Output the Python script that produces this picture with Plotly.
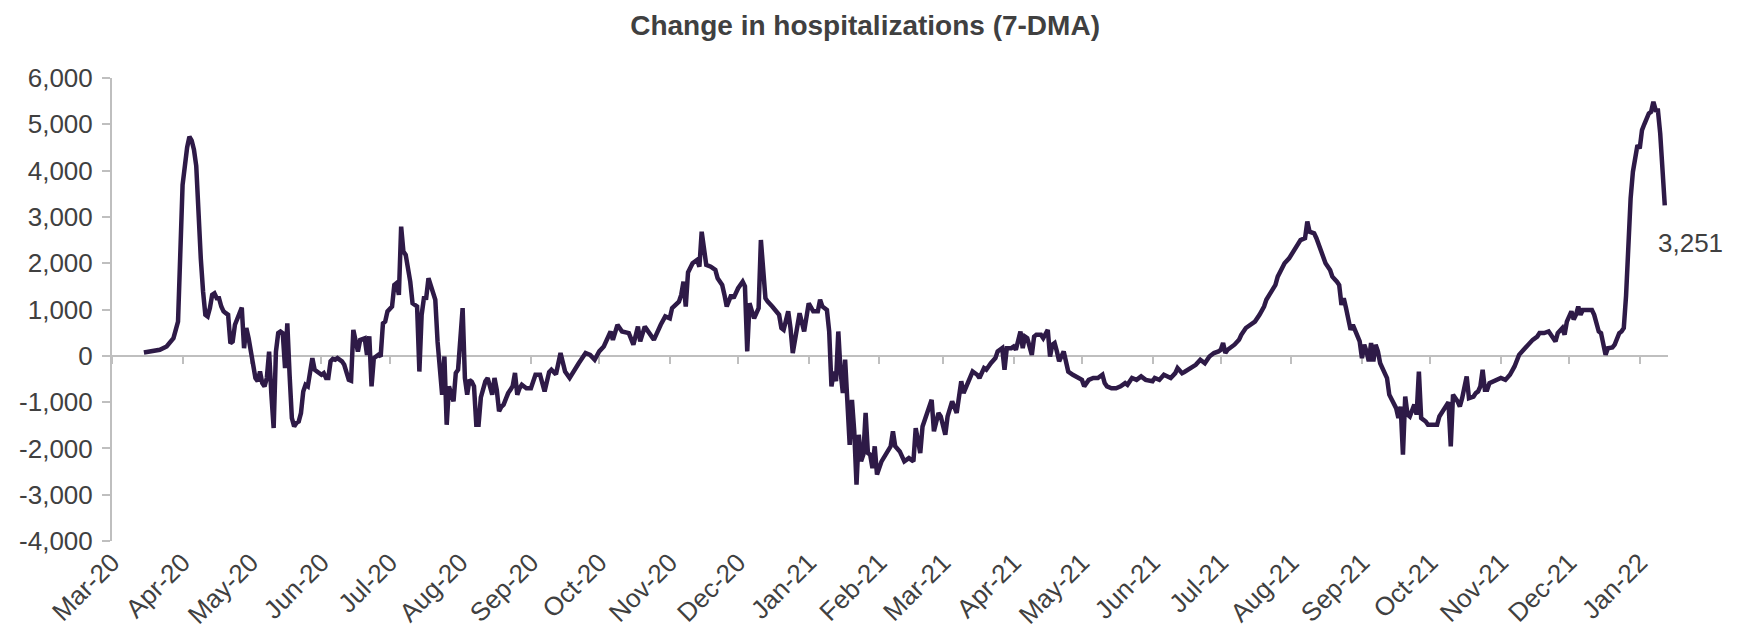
import plotly.graph_objects as go

# change in hospitalizations, 7-day moving average
dates = [
    "2020-03-15", "2020-03-22", "2020-03-25", "2020-03-28", "2020-03-30",
    "2020-04-01", "2020-04-03", "2020-04-04", "2020-04-05", "2020-04-06", "2020-04-07", "2020-04-08",
    "2020-04-09", "2020-04-10", "2020-04-11", "2020-04-12", "2020-04-13", "2020-04-14", "2020-04-15",
    "2020-04-16", "2020-04-17", "2020-04-18", "2020-04-19", "2020-04-20", "2020-04-21", "2020-04-22",
    "2020-04-23", "2020-04-24", "2020-04-25", "2020-04-26", "2020-04-27", "2020-04-28", "2020-04-29",
    "2020-04-30",
    "2020-05-01", "2020-05-02", "2020-05-03", "2020-05-04", "2020-05-05", "2020-05-06", "2020-05-07",
    "2020-05-08", "2020-05-09", "2020-05-10", "2020-05-11", "2020-05-12", "2020-05-13", "2020-05-14",
    "2020-05-15", "2020-05-16", "2020-05-17", "2020-05-18", "2020-05-19", "2020-05-20", "2020-05-21",
    "2020-05-22", "2020-05-23", "2020-05-24", "2020-05-25", "2020-05-26", "2020-05-27", "2020-05-28",
    "2020-05-29", "2020-05-30", "2020-05-31",
    "2020-06-01", "2020-06-02", "2020-06-03", "2020-06-04", "2020-06-05", "2020-06-06", "2020-06-07",
    "2020-06-08", "2020-06-09", "2020-06-10", "2020-06-11", "2020-06-12", "2020-06-13", "2020-06-14",
    "2020-06-15", "2020-06-17", "2020-06-18", "2020-06-20", "2020-06-21", "2020-06-22", "2020-06-23",
    "2020-06-24", "2020-06-26", "2020-06-27", "2020-06-28", "2020-06-29", "2020-06-30",
    "2020-07-02", "2020-07-03", "2020-07-04", "2020-07-05", "2020-07-06", "2020-07-07", "2020-07-08",
    "2020-07-10", "2020-07-11", "2020-07-12", "2020-07-13", "2020-07-14", "2020-07-15", "2020-07-16",
    "2020-07-17", "2020-07-18", "2020-07-19", "2020-07-20", "2020-07-21", "2020-07-22", "2020-07-23",
    "2020-07-24", "2020-07-25", "2020-07-26", "2020-07-27", "2020-07-28", "2020-07-29", "2020-07-30",
    "2020-07-31",
    "2020-08-02", "2020-08-03", "2020-08-04", "2020-08-05", "2020-08-06", "2020-08-07", "2020-08-08",
    "2020-08-09", "2020-08-10", "2020-08-11", "2020-08-12", "2020-08-13", "2020-08-14", "2020-08-15",
    "2020-08-16", "2020-08-17", "2020-08-18", "2020-08-19", "2020-08-20", "2020-08-21", "2020-08-22",
    "2020-08-23", "2020-08-24", "2020-08-25", "2020-08-26", "2020-08-27", "2020-08-28", "2020-08-30",
    "2020-09-01", "2020-09-03", "2020-09-05", "2020-09-07", "2020-09-09", "2020-09-10", "2020-09-12",
    "2020-09-14", "2020-09-16", "2020-09-18", "2020-09-20", "2020-09-22", "2020-09-25", "2020-09-27",
    "2020-09-29",
    "2020-10-01", "2020-10-03", "2020-10-06", "2020-10-07", "2020-10-09", "2020-10-11", "2020-10-14",
    "2020-10-16", "2020-10-18", "2020-10-19", "2020-10-21", "2020-10-23", "2020-10-25", "2020-10-28",
    "2020-10-30",
    "2020-11-01", "2020-11-02", "2020-11-05", "2020-11-06", "2020-11-07", "2020-11-08", "2020-11-09",
    "2020-11-10", "2020-11-11", "2020-11-13", "2020-11-14", "2020-11-15", "2020-11-17", "2020-11-19",
    "2020-11-21", "2020-11-22", "2020-11-24", "2020-11-25", "2020-11-26", "2020-11-28", "2020-11-29",
    "2020-12-01", "2020-12-03", "2020-12-04", "2020-12-05", "2020-12-06", "2020-12-08", "2020-12-10",
    "2020-12-11", "2020-12-13", "2020-12-14", "2020-12-16", "2020-12-19", "2020-12-20", "2020-12-21",
    "2020-12-23", "2020-12-24", "2020-12-25", "2020-12-27", "2020-12-28", "2020-12-30",
    "2021-01-01", "2021-01-03", "2021-01-05", "2021-01-06", "2021-01-07", "2021-01-09", "2021-01-10",
    "2021-01-11", "2021-01-12", "2021-01-13", "2021-01-14", "2021-01-15", "2021-01-16", "2021-01-17",
    "2021-01-18", "2021-01-19", "2021-01-20", "2021-01-21", "2021-01-22", "2021-01-23", "2021-01-24",
    "2021-01-25", "2021-01-26", "2021-01-27", "2021-01-28", "2021-01-29", "2021-01-30", "2021-01-31",
    "2021-02-02", "2021-02-04", "2021-02-06", "2021-02-07", "2021-02-08", "2021-02-10", "2021-02-12",
    "2021-02-14", "2021-02-16", "2021-02-17", "2021-02-19", "2021-02-20", "2021-02-22", "2021-02-24",
    "2021-02-25", "2021-02-27", "2021-02-28",
    "2021-03-02", "2021-03-03", "2021-03-05", "2021-03-07", "2021-03-09", "2021-03-10", "2021-03-12",
    "2021-03-14", "2021-03-16", "2021-03-17", "2021-03-19", "2021-03-20", "2021-03-22", "2021-03-24",
    "2021-03-25", "2021-03-26", "2021-03-27", "2021-03-28", "2021-03-29", "2021-03-31",
    "2021-04-01", "2021-04-02", "2021-04-04", "2021-04-05", "2021-04-06", "2021-04-07", "2021-04-09",
    "2021-04-10", "2021-04-11", "2021-04-13", "2021-04-14", "2021-04-16", "2021-04-17", "2021-04-18",
    "2021-04-19", "2021-04-20", "2021-04-21", "2021-04-23", "2021-04-24", "2021-04-25", "2021-04-27",
    "2021-04-29",
    "2021-05-01", "2021-05-02", "2021-05-04", "2021-05-06", "2021-05-08", "2021-05-10", "2021-05-11",
    "2021-05-12", "2021-05-14", "2021-05-16", "2021-05-18", "2021-05-20", "2021-05-21", "2021-05-23",
    "2021-05-25", "2021-05-27", "2021-05-29",
    "2021-06-01", "2021-06-02", "2021-06-04", "2021-06-06", "2021-06-09", "2021-06-11", "2021-06-12",
    "2021-06-14", "2021-06-15", "2021-06-18", "2021-06-20", "2021-06-22", "2021-06-24", "2021-06-26",
    "2021-06-28", "2021-06-30",
    "2021-07-01", "2021-07-02", "2021-07-03", "2021-07-04", "2021-07-07", "2021-07-09", "2021-07-10",
    "2021-07-12", "2021-07-14", "2021-07-16", "2021-07-18", "2021-07-20", "2021-07-21", "2021-07-23",
    "2021-07-24", "2021-07-25", "2021-07-26", "2021-07-28", "2021-07-29", "2021-07-31",
    "2021-08-01", "2021-08-03", "2021-08-04", "2021-08-05", "2021-08-07", "2021-08-08", "2021-08-09",
    "2021-08-11", "2021-08-12", "2021-08-13", "2021-08-15", "2021-08-16", "2021-08-18", "2021-08-19",
    "2021-08-21", "2021-08-22", "2021-08-23", "2021-08-24", "2021-08-25", "2021-08-26", "2021-08-27",
    "2021-08-28", "2021-08-30", "2021-08-31",
    "2021-09-01", "2021-09-02", "2021-09-03", "2021-09-04", "2021-09-05", "2021-09-06", "2021-09-07",
    "2021-09-08", "2021-09-09", "2021-09-10", "2021-09-12", "2021-09-13", "2021-09-14", "2021-09-16",
    "2021-09-17", "2021-09-18", "2021-09-19", "2021-09-20", "2021-09-21", "2021-09-22", "2021-09-24",
    "2021-09-25", "2021-09-26", "2021-09-27", "2021-09-29", "2021-09-30",
    "2021-10-02", "2021-10-04", "2021-10-05", "2021-10-07", "2021-10-09", "2021-10-10", "2021-10-11",
    "2021-10-13", "2021-10-14", "2021-10-15", "2021-10-17", "2021-10-18", "2021-10-20", "2021-10-21",
    "2021-10-22", "2021-10-23", "2021-10-24", "2021-10-25", "2021-10-26", "2021-10-27", "2021-10-29",
    "2021-10-30",
    "2021-11-01", "2021-11-03", "2021-11-05", "2021-11-07", "2021-11-09", "2021-11-11", "2021-11-13",
    "2021-11-15", "2021-11-17", "2021-11-18", "2021-11-20", "2021-11-22", "2021-11-23", "2021-11-25",
    "2021-11-26", "2021-11-28", "2021-11-29", "2021-11-30",
    "2021-12-02", "2021-12-03", "2021-12-04", "2021-12-05", "2021-12-06", "2021-12-07", "2021-12-09",
    "2021-12-11", "2021-12-12", "2021-12-13", "2021-12-14", "2021-12-15", "2021-12-16", "2021-12-17",
    "2021-12-18", "2021-12-20", "2021-12-21", "2021-12-22", "2021-12-23", "2021-12-24", "2021-12-25",
    "2021-12-26", "2021-12-27", "2021-12-28", "2021-12-29", "2021-12-30", "2021-12-31",
    "2022-01-01", "2022-01-02", "2022-01-03", "2022-01-04", "2022-01-05", "2022-01-06", "2022-01-07",
    "2022-01-08", "2022-01-09", "2022-01-10", "2022-01-11", "2022-01-12",
]

hosp_change = [
    70, 130, 200, 380, 740,
    3690, 4500, 4730, 4650, 4450, 4100, 2800,
    2100, 1390, 885, 850, 1030, 1315, 1350,
    1245, 1245, 1065, 960, 920, 885, 270,
    310, 670, 810, 960, 1040, 165, 600,
    380,
    90, -230, -480, -550, -340, -590, -660,
    -480, 90, -840, -1560, 90, 490, 525,
    490, -265, 700, -410, -1345, -1525, -1450,
    -1420, -1235, -770, -625, -660, -410, -50,
    -300, -340, -375,
    -410, -375, -480, -480, -120, -65, -85,
    -50, -85, -120, -195, -410, -520, -540,
    560, 90, 345, 380, 20, 420, -660,
    -50, 20, -15, 700, 740, 960,
    1065, 1530, 1570, 1315, 2790, 2250, 2180,
    1600, 1135, 1100, 1065, -340, 885, 1245,
    1250, 1675, 1500, 1315, 1210, 300, -400,
    -840, -15, -1490, -660, -800, -985, -370,
    -300,
    1030, -480, -840, -520, -560, -660, -1490,
    -1490, -900, -700, -550, -480, -700, -840,
    -480, -735, -1200, -1100, -1055, -900, -805,
    -735, -650, -370, -840, -700, -625, -700,
    -700, -410, -410, -770, -350, -300, -400,
    60, -340, -480, -340, -160, 60, 20,
    -85,
    95, 200, 525, 345, 670, 525, 490,
    240, 630, 310, 630, 490, 345, 670,
    850,
    810, 1030, 1170, 1315, 1600, 1065, 1800,
    1925, 2000, 2070, 1925, 2680, 1965, 1925,
    1855, 1675, 1530, 1315, 1065, 1315, 1245,
    1460, 1600, 1500, 95, 1135, 810, 1030,
    2500, 1245, 1170, 1065, 885, 600, 560,
    960, 600, 60, 670, 920, 525,
    1135, 960, 960, 1210, 1065, 990, 525,
    -660, -340, -550, 525, -340, -805, -85,
    -840, -1925, -950, -1630, -2785, -1705, -2280,
    -2135, -1235, -2100, -2135, -2425, -1955, -2565,
    -2280, -2135, -1955, -1630, -1955, -2065, -2280,
    -2210, -2280, -1560, -2100, -1525, -1270, -950,
    -1630, -1235, -1310,
    -1705, -1310, -985, -1235, -550, -805, -590,
    -340, -410, -480, -265, -300, -160, -50,
    95, 130, 165, -300, 165, 165,
    200, 130, 525, 165, 415, 380, 20,
    415, 455, 455, 380, 560, -15, 240,
    275, 95, -120, 95, -120, -340, -410,
    -465,
    -520, -660, -520, -480, -480, -410, -590,
    -660, -700, -700, -660, -590, -625, -480,
    -520, -445, -520,
    -550, -480, -520, -410, -480, -375, -265,
    -375, -350, -265, -195, -85, -160, -15,
    60, 95,
    130, 275, 60, 130, 240, 345, 455,
    600, 670, 740, 885, 1065, 1210, 1350,
    1460, 1530, 1710, 1890, 2000, 2105,
    2180, 2320, 2410, 2500, 2540, 2900, 2680,
    2645, 2540, 2395, 2105, 2000, 1855, 1710,
    1600, 1530, 1100, 1245, 1030, 810, 560,
    670, 455, 310,
    -50, 240, 95, -120, 275, -120, 240,
    95, -160, -265, -480, -840, -950, -1130,
    -1345, -1100, -2135, -880, -1270, -1310, -1055,
    -1270, -340, -1345, -1420, -1490,
    -1490, -1490, -1310, -1130, -1000, -1955, -840,
    -985, -1095, -915, -445, -915, -880, -805,
    -770, -660, -300, -735, -735, -590, -550,
    -520,
    -480, -520, -410, -230, 20, 130, 240,
    345, 415, 490, 490, 525, 455, 310,
    490, 600, 455, 740,
    960, 785, 885, 1065, 885, 990, 990,
    990, 885, 700, 525, 490, 240, 20,
    165, 180, 240, 345, 490, 525, 600,
    1300, 2500, 3400, 3975, 4300, 4550,
    4480, 4875, 5000, 5125, 5235, 5270, 5485,
    5305, 5300, 4800, 4150, 3251,
]

y_ticks = [-4000, -3000, -2000, -1000, 0, 1000, 2000, 3000, 4000, 5000, 6000]
y_tick_text = [f"{v:,}" for v in y_ticks]  # plain hyphen for negatives, as in the original
x_range = ["2020-03-01", "2022-01-13 10:00"]
last_label = "3,251"

line_color = "#2E1A47"
text_color = "#404040"
axis_color = "#BFBFBF"
font_family = "Liberation Sans, Arial, sans-serif"
tick_size = 26

fig = go.Figure()
fig.add_trace(go.Scatter(
    x=dates, y=hosp_change,
    mode="lines",
    line=dict(color=line_color, width=4.5),
    showlegend=False,
))
# invisible copy so the zero-crossing axis (x2) gets drawn
fig.add_trace(go.Scatter(
    x=dates, y=hosp_change, xaxis="x2",
    mode="lines", line=dict(width=0), opacity=0,
    hoverinfo="skip", showlegend=False,
))

fig.add_annotation(
    x=dates[-1], y=hosp_change[-1], text=last_label,
    showarrow=False, xanchor="left", yanchor="top",
    xshift=-9, yshift=-21,
    font=dict(size=tick_size, color=text_color, family=font_family),
)

# page body adds an 8px offset, so the figure is 8px smaller than the window
fig.update_layout(
    width=1736, height=630,
    paper_bgcolor="white", plot_bgcolor="white",
    margin=dict(l=104, r=76, t=70, b=97),
    title=dict(
        text="<b>Change in hospitalizations (7-DMA)</b>",
        x=0.4937, xref="container", xanchor="center",
        y=1 - 17 / 630, yref="container", yanchor="middle",
        font=dict(size=28, color=text_color, family=font_family),
    ),
    xaxis=dict(
        type="date", range=x_range, automargin=False,
        tick0="2020-03-01", dtick="M1", tickformat="%b-%y",
        tickangle=-45, ticks="", showline=False,
        showgrid=False, zeroline=False,
        tickfont=dict(size=tick_size, color=text_color, family=font_family),
    ),
    xaxis2=dict(
        type="date", range=x_range, overlaying="x",
        anchor="free", position=0.4, automargin=False,
        tick0="2020-03-01", dtick="M1",
        showticklabels=False, ticks="outside", ticklen=7,
        tickcolor=axis_color, tickwidth=2,
        showline=True, linecolor=axis_color, linewidth=2,
        showgrid=False, zeroline=False, layer="below traces",
    ),
    yaxis=dict(
        range=[-4000, 6000], tickvals=y_ticks, ticktext=y_tick_text,
        automargin=False,
        showline=True, linecolor=axis_color, linewidth=2,
        ticks="outside", ticklen=8, tickcolor=axis_color, tickwidth=2,
        ticklabelstandoff=4,
        showgrid=False, zeroline=False,
        tickfont=dict(size=tick_size, color=text_color, family=font_family),
    ),
)

fig.write_html("out.html")
